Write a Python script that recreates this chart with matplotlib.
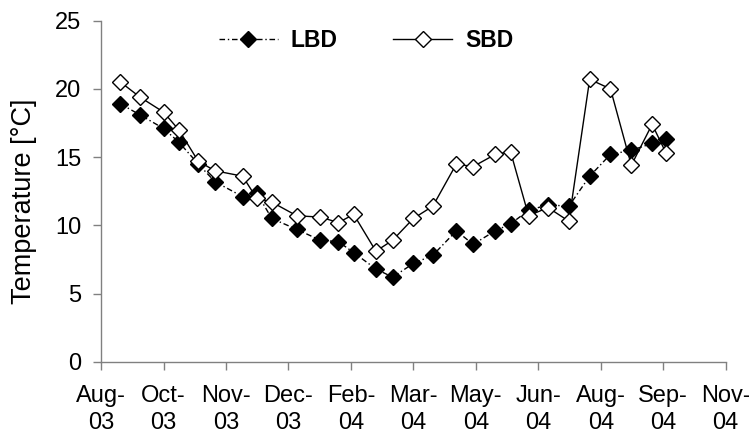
import numpy as np
import pandas as pd
import matplotlib
matplotlib.use("Agg")
import matplotlib.pyplot as plt

plt.rcParams['font.family'] = ['Liberation Sans', 'DejaVu Sans']

# sampling dates
dates = ['2003-08-31', '2003-09-14', '2003-10-01', '2003-10-12', '2003-10-26',
         '2003-11-07', '2003-11-27', '2003-12-07', '2003-12-18', '2004-01-05',
         '2004-01-22', '2004-02-04', '2004-02-15', '2004-03-02', '2004-03-14',
         '2004-03-29', '2004-04-12', '2004-04-29', '2004-05-11', '2004-05-27',
         '2004-06-07', '2004-06-20', '2004-07-04', '2004-07-19', '2004-08-03',
         '2004-08-18', '2004-09-02', '2004-09-17', '2004-09-27']
lbd = [18.9, 18.1, 17.1, 16.1, 14.5, 13.2, 12.1, 12.4, 10.5, 9.7,
       8.9, 8.8, 8.0, 6.8, 6.2, 7.2, 7.8, 9.6, 8.6, 9.6,
       10.1, 11.1, 11.5, 11.4, 13.6, 15.2, 15.5, 16.0, 16.3]
sbd = [20.5, 19.4, 18.3, 17.0, 14.7, 14.0, 13.6, 12.0, 11.7, 10.7,
       10.6, 10.2, 10.8, 8.1, 8.9, 10.5, 11.4, 14.5, 14.3, 15.2,
       15.4, 10.7, 11.3, 10.3, 20.7, 20.0, 14.4, 17.4, 15.3]

# date axis: ticks every 45 days from 17 Aug 2003
axis_start = '2003-08-17'
tick_step = 45
tick_labels = ['Aug-\n03', 'Oct-\n03', 'Nov-\n03', 'Dec-\n03', 'Feb-\n04', 'Mar-\n04',
               'May-\n04', 'Jun-\n04', 'Aug-\n04', 'Sep-\n04', 'Nov-\n04']

x = pd.to_datetime(dates)
t0 = pd.Timestamp(axis_start)
ticks = [t0 + pd.Timedelta(days=tick_step * i) for i in range(len(tick_labels))]

fig = plt.figure(figsize=(7.49, 4.41), dpi=100)
ax = fig.add_axes([0.1349, 0.1798, 0.8340, 0.7733])

ax.plot(x, lbd, ls=(0, (4, 2, 1, 2)), lw=1, color='k', marker='D', ms=8,
        mfc='k', mec='k', label='LBD')
ax.plot(x, sbd, ls='-', lw=1, color='k', marker='D', ms=8,
        mfc='white', mec='k', mew=1, label='SBD')

ax.set_xlim(ticks[0], ticks[-1])
ax.set_ylim(0, 25)
ax.set_yticks(np.arange(0, 26, 5))
ax.set_xticks(ticks)
ax.set_xticklabels(tick_labels)
for lbl in ax.get_xticklabels():
    lbl.set_linespacing(1.25)

for s in ['top', 'right']:
    ax.spines[s].set_visible(False)
for s in ['left', 'bottom']:
    ax.spines[s].set_color('#808080')
    ax.spines[s].set_linewidth(1)
ax.tick_params(axis='both', direction='out', length=6, width=1, color='#808080',
               labelsize=17, labelcolor='k')
ax.tick_params(axis='y', pad=8)
ax.tick_params(axis='x', pad=11)

ax.set_ylabel('Temperature [°C]', fontsize=19.5)
ax.yaxis.set_label_coords(-0.103, 0.47)

fig.legend(loc='center left', bbox_to_anchor=(0.292, 0.909), ncol=2, frameon=False,
           prop={'weight': 'bold', 'size': 16.5}, handlelength=2.6, handletextpad=0.55,
           columnspacing=2.4, borderpad=0, borderaxespad=0)

fig.savefig('out.png', dpi=100)
